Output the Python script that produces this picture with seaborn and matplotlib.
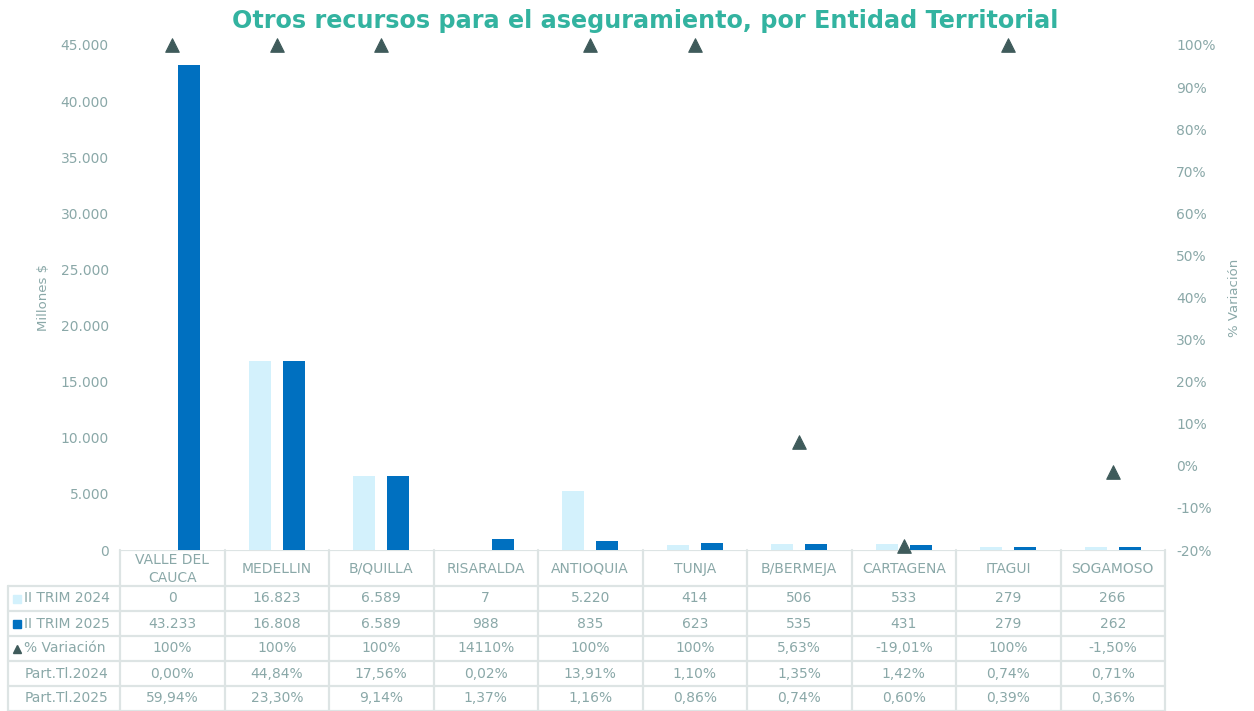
import numpy as np
import pandas as pd
import matplotlib
matplotlib.use("Agg")
import matplotlib.pyplot as plt
import matplotlib.transforms as mtransforms
from matplotlib.lines import Line2D
import seaborn as sns

# ---------------- data ----------------
categories = ["VALLE DEL\nCAUCA", "MEDELLIN", "B/QUILLA", "RISARALDA", "ANTIOQUIA",
              "TUNJA", "B/BERMEJA", "CARTAGENA", "ITAGUI", "SOGAMOSO"]
trim2024 = [0, 16823, 6589, 7, 5220, 414, 506, 533, 279, 266]
trim2025 = [43233, 16808, 6589, 988, 835, 623, 535, 431, 279, 262]
variacion = [1.00, 1.00, 1.00, 141.10, 1.00, 1.00, 0.0563, -0.1901, 1.00, -0.0150]
part2024 = [0.0000, 0.4484, 0.1756, 0.0002, 0.1391, 0.0110, 0.0135, 0.0142, 0.0074, 0.0071]
part2025 = [0.5994, 0.2330, 0.0914, 0.0137, 0.0116, 0.0086, 0.0074, 0.0060, 0.0039, 0.0036]
series_names = ["II TRIM 2024", "II TRIM 2025"]
left_ticks = [0, 5000, 10000, 15000, 20000, 25000, 30000, 35000, 40000, 45000]
right_ticks = [-0.2, -0.1, 0.0, 0.1, 0.2, 0.3, 0.4, 0.5, 0.6, 0.7, 0.8, 0.9, 1.0]

# ---------------- style ----------------
C_LIGHT = "#D3F1FC"
C_DARK = "#0070C0"
C_MARK = "#3F5B5B"
C_TEXT = "#8AA8A8"
C_TITLE = "#33B3A0"
C_GRID = "#DDE4E4"

sns.set_theme(style="white")
plt.rcParams["font.family"] = ["DejaVu Sans"]

W, H = 1254, 711
fig = plt.figure(figsize=(W / 100, H / 100), dpi=100)


def fx(px):
    return px / W


def fy(py):
    return 1 - py / H


L, R, T, B = 120, 1165, 45, 550
ax = fig.add_axes([fx(L), fy(B), fx(R - L), (B - T) / H])

df = pd.DataFrame({
    "cat": categories * 2,
    "serie": [series_names[0]] * len(categories) + [series_names[1]] * len(categories),
    "valor": trim2024 + trim2025,
})
sns.barplot(data=df, x="cat", y="valor", hue="serie", order=categories,
            hue_order=series_names, palette=[C_LIGHT, C_DARK],
            width=0.65, gap=0.35, legend=False, ax=ax, saturation=1,
            linewidth=0)
ax.set_xlim(-0.5, len(categories) - 0.5)
ax.set_ylim(0, 45000)
ax.set_yticks(left_ticks)
ax.set_yticklabels([f"{v:,}".replace(",", ".") for v in left_ticks],
                   color=C_TEXT, fontsize=10)
ax.set_xticks([])
ax.set_xlabel("")
ax.set_ylabel("Millones $", color=C_TEXT, fontsize=9.5, labelpad=8)
ax.tick_params(axis="y", length=0, pad=8)
for s in ax.spines.values():
    s.set_visible(False)

ax2 = ax.twinx()
var_arr = np.array(variacion)
var_plot = np.where(var_arr <= 1.0, var_arr, np.nan)
sns.scatterplot(x=np.arange(len(categories)), y=var_plot, marker="^", s=95,
                color=C_MARK, edgecolor=C_MARK, ax=ax2, clip_on=False, zorder=5)
ax2.set_ylim(-0.2, 1.0)
ax2.set_yticks(right_ticks)
ax2.set_yticklabels([f"{round(v * 100):.0f}%" for v in right_ticks],
                    color=C_TEXT, fontsize=10)
ax2.set_ylabel("% Variación", color=C_TEXT, fontsize=9.5, labelpad=9)
ax2.tick_params(axis="y", length=0, pad=8)
for s in ax2.spines.values():
    s.set_visible(False)

fig.text(fx(645), fy(21), "Otros recursos para el aseguramiento, por Entidad Territorial",
         ha="center", va="center", color=C_TITLE, fontsize=17.2, fontweight="bold")

# ---------------- data table ----------------
def fmt_int(v):
    return f"{v:,}".replace(",", ".")


def fmt_var(v):
    p = round(v * 100, 2)
    if abs(p - round(p)) < 1e-9:
        return f"{p:.0f}%"
    return f"{p:.2f}%".replace(".", ",")


def fmt_part(v):
    return f"{v * 100:.2f}%".replace(".", ",")


rows = [
    (series_names[0], [fmt_int(v) for v in trim2024]),
    (series_names[1], [fmt_int(v) for v in trim2025]),
    ("% Variación", [fmt_var(v) for v in variacion]),
    ("Part.Tl.2024", [fmt_part(v) for v in part2024]),
    ("Part.Tl.2025", [fmt_part(v) for v in part2025]),
]

trans = mtransforms.blended_transform_factory(ax.transData, fig.transFigure)
row_edges = [550, 586, 611, 636, 661, 686, 711]
n = len(categories)

# header
for i, c in enumerate(categories):
    ax.text(i, fy((row_edges[0] + row_edges[1]) / 2 + 1), c, transform=trans,
            ha="center", va="center", color=C_TEXT, fontsize=10,
            linespacing=1.3, clip_on=False)
# body
for r, (label, vals) in enumerate(rows):
    yc = fy((row_edges[r + 1] + row_edges[r + 2]) / 2)
    for i, v in enumerate(vals):
        ax.text(i, yc, v, transform=trans, ha="center", va="center",
                color=C_TEXT, fontsize=10, clip_on=False)
    if r < 3:
        fig.text(fx(24.5), yc, label, ha="left", va="center", color=C_TEXT, fontsize=10)
    else:
        fig.text(fx(67), yc, label, ha="center", va="center", color=C_TEXT, fontsize=10)

# legend keys in row labels
key_specs = [("s", C_LIGHT, 5.5), ("s", C_DARK, 5.5), ("^", C_MARK, 5.5)]
for r, (mk, col, ms) in enumerate(key_specs):
    yc = fy((row_edges[r + 1] + row_edges[r + 2]) / 2)
    fig.add_artist(Line2D([fx(17)], [yc], marker=mk, color=col, markersize=ms,
                          linestyle="none", transform=fig.transFigure))

# grid lines
lw = 1.6
for k, yy in enumerate(row_edges):
    x0 = fx(L) if k == 0 else fx(8)
    fig.add_artist(Line2D([x0, fx(R)], [fy(yy), fy(yy)], color=C_GRID, lw=lw,
                          transform=fig.transFigure, zorder=0))
for i in range(n + 1):
    xx = i - 0.5
    ax.add_artist(Line2D([xx, xx], [fy(row_edges[0]), 0], color=C_GRID, lw=lw,
                         transform=trans, clip_on=False, zorder=0))
fig.add_artist(Line2D([fx(8), fx(8)], [fy(row_edges[1]), 0], color=C_GRID, lw=lw,
                      transform=fig.transFigure, zorder=0))

fig.savefig("out.png", dpi=100)
